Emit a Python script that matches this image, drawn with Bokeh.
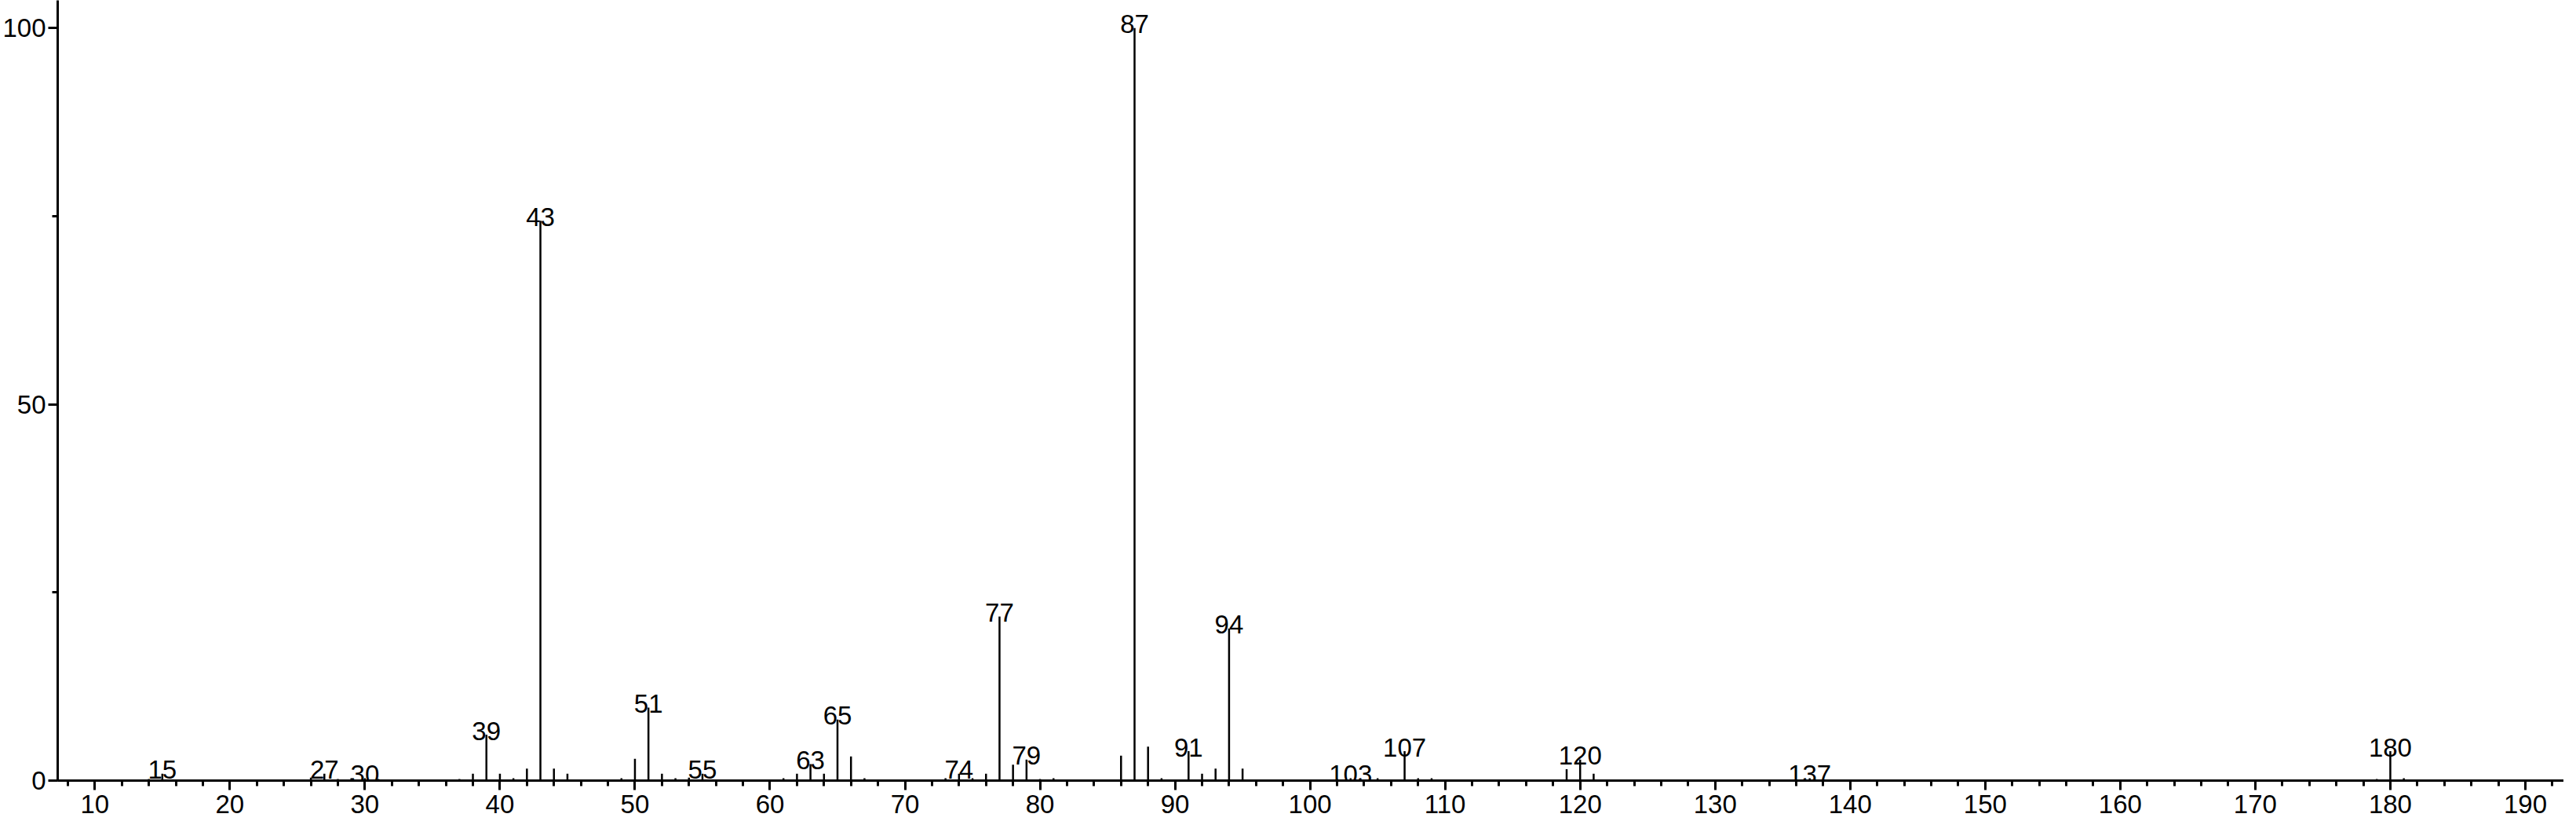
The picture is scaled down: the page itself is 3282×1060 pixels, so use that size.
from bokeh.plotting import figure
from bokeh.models import ColumnDataSource, SingleIntervalTicker, Range1d
from bokeh.embed import file_html
from bokeh.resources import INLINE
from bokeh.core.properties import value

# m/z values and relative intensities (%)
mz = [14, 15, 26, 27, 28, 29, 30, 31, 37, 38, 39, 40, 41, 42, 43, 44, 45,
      49, 50, 51, 52, 53, 54, 55, 61, 62, 63, 64, 65, 66, 67, 73, 74, 75,
      76, 77, 78, 79, 80, 81, 86, 87, 88, 89, 91, 92, 93, 94, 95, 102, 103,
      105, 107, 108, 109, 119, 120, 121, 137, 179, 180, 181]
intensity = [0.2, 0.9, 0.4, 0.9, 0.2, 0.3, 0.3, 0.2, 0.2, 0.9, 6.1, 0.9, 0.3,
             1.6, 74.4, 1.6, 0.9, 0.3, 2.9, 9.7, 0.9, 0.3, 0.4, 0.9, 0.3, 0.9,
             2.2, 0.9, 8.1, 3.2, 0.3, 0.3, 0.9, 0.3, 0.9, 21.8, 2.1, 2.8, 0.2,
             0.3, 3.3, 100.0, 4.5, 0.3, 3.9, 0.9, 1.6, 20.2, 1.6, 0.2, 0.3,
             0.3, 3.9, 0.3, 0.3, 1.5, 2.8, 0.9, 0.3, 0.2, 3.9, 0.3]

# labelled peaks
label_mz = [15, 27, 30, 39, 43, 51, 55, 63, 65, 74, 77, 79, 87, 91, 94, 103,
            107, 120, 137, 180]

FONT = "Liberation Sans"

lookup = dict(zip(mz, intensity))
label_y = [lookup[m] for m in label_mz]
label_txt = [str(m) for m in label_mz]

src = ColumnDataSource(dict(x=mz, y0=[0] * len(mz), y=intensity))
lsrc = ColumnDataSource(dict(x=label_mz, y=label_y, t=label_txt))

p = figure(width=3266, height=1044, output_backend="svg", toolbar_location=None,
           x_range=Range1d(7.25, 192.85), y_range=Range1d(0, 103.68),
           min_border_left=0, min_border_right=0, min_border_top=0,
           min_border_bottom=50)
p.outline_line_color = None
p.xgrid.visible = False
p.ygrid.visible = False
p.background_fill_color = "white"
p.border_fill_color = "white"

p.segment(x0="x", y0="y0", x1="x", y1="y", source=src, line_color="black",
          line_width=2.5)
p.text(x="x", y="y", text="t", source=lsrc, text_align="center",
       text_baseline="alphabetic", y_offset=-5, text_font=value(FONT),
       text_font_size="33px", text_color="black")

xa = p.xaxis[0]
xa.ticker = SingleIntervalTicker(interval=10, num_minor_ticks=5)
ya = p.yaxis[0]
ya.ticker = SingleIntervalTicker(interval=50, num_minor_ticks=2)

for ax in (xa, ya):
    ax.axis_line_color = "black"
    ax.axis_line_width = 3
    ax.major_tick_line_color = "black"
    ax.major_tick_line_width = 3
    ax.minor_tick_line_color = "black"
    ax.minor_tick_line_width = 3
    ax.major_tick_out = 12
    ax.major_tick_in = 0
    ax.minor_tick_out = 7
    ax.minor_tick_in = 0
    ax.major_label_text_font = FONT
    ax.major_label_text_font_size = "33px"
    ax.major_label_text_color = "black"
    ax.major_label_text_font_style = "normal"

xa.major_label_standoff = 6
ya.major_label_standoff = 3

open("out.html", "w").write(file_html(p, INLINE))
